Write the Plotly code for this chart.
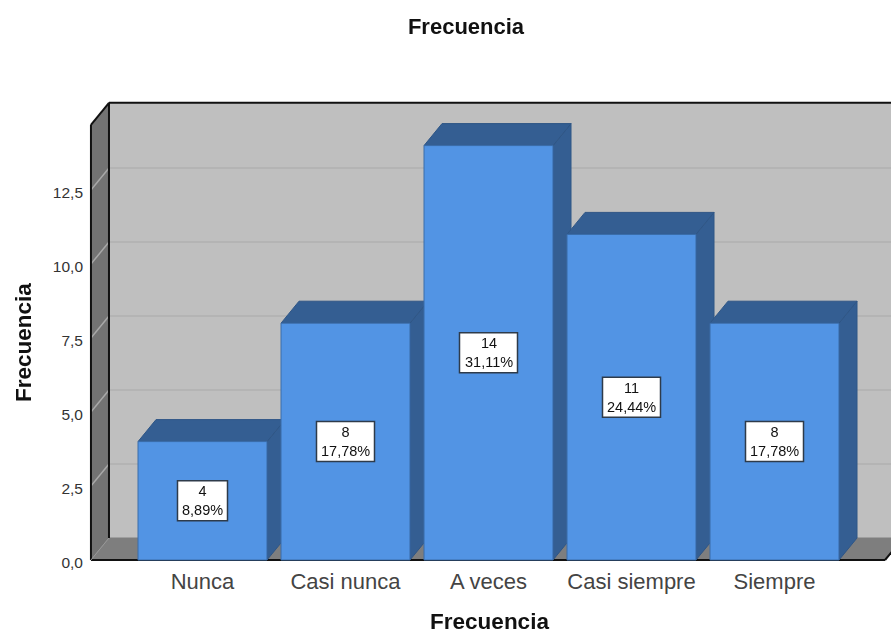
import plotly.graph_objects as go

categories = ["Nunca", "Casi nunca", "A veces", "Casi siempre", "Siempre"]
counts = [4, 8, 14, 11, 8]
percents = ["8,89%", "17,78%", "31,11%", "24,44%", "17,78%"]
y_ticks = [0, 2.5, 5, 7.5, 10, 12.5]
y_tick_labels = ["0,0", "2,5", "5,0", "7,5", "10,0", "12,5"]

# Pseudo-3D depth of the box, in axis units
DX, DY = 0.126, 0.743
BAR_W = 0.902
WALL_L, WALL_R, WALL_T = -0.78, 4.773, 14.7
X_RANGE = [-0.8007, 4.8147]
Y_RANGE = [-0.2027, 15.54]
LABEL_SHIFT = 0.10  # tick labels sit a little below their gridline ends

FRONT, DARK, EDGE = "#5294E4", "#345E92", "#3A6CA8"
BACK, SIDE, FLOOR = "#BFBFBF", "#737373", "#7E7E7E"
L, R, T, B = 88, 0, 100, 68


def poly(pts, fill, line=None, width=1):
    path = "M" + " L".join(f"{x},{y}" for x, y in pts) + " Z"
    return dict(type="path", path=path, xref="x", yref="y", layer="below",
                fillcolor=fill, line=dict(color=line or fill, width=width))


def seg(x0, y0, x1, y1, color, width=1):
    return dict(type="line", x0=x0, y0=y0, x1=x1, y1=y1, xref="x", yref="y",
                layer="below", line=dict(color=color, width=width))


shapes = [
    poly([(WALL_L + DX, DY), (WALL_R + DX, DY), (WALL_R + DX, WALL_T + DY), (WALL_L + DX, WALL_T + DY)], BACK),
    poly([(WALL_L, 0), (WALL_L + DX, DY), (WALL_L + DX, WALL_T + DY), (WALL_L, WALL_T)], SIDE),
    poly([(WALL_L, 0), (WALL_R, 0), (WALL_R + DX, DY), (WALL_L + DX, DY)], FLOOR),
]
for v in y_ticks[1:]:
    shapes.append(seg(WALL_L + DX, v + DY, WALL_R + DX, v + DY, "#B1B1B1", 1.5))
    shapes.append(seg(WALL_L, v, WALL_L + DX, v + DY, "#A8A8A8", 1.5))
shapes += [
    seg(WALL_L + DX, DY, WALL_L + DX, WALL_T + DY, "#111111", 2),
    seg(WALL_L, 0, WALL_L, WALL_T, "#111111", 2),
    seg(WALL_L, WALL_T, WALL_L + DX, WALL_T + DY, "#111111", 2),
    seg(WALL_L + DX, WALL_T + DY, WALL_R + DX, WALL_T + DY, "#111111", 2),
    seg(WALL_L, 0, WALL_R, 0, "#111111", 2),
    seg(WALL_R, 0, WALL_R + DX, DY, "#111111", 2),
    seg(WALL_L, 0, WALL_L + DX, DY, "#999999", 1),
]

xs = list(range(len(categories)))
for i, v in zip(xs, counts):
    l, r = i - BAR_W / 2, i + BAR_W / 2
    shapes.append(poly([(r, 0), (r + DX, DY), (r + DX, v + DY), (r, v)], DARK, "#2F5686"))
    shapes.append(poly([(l, v), (r, v), (r + DX, v + DY), (l + DX, v + DY)], DARK, "#2F5686"))

annotations = []
for i, v, pct in zip(xs, counts, percents):
    half_w = 29 if len(pct) > 5 else 25
    shapes.append(dict(type="rect", xref="x", yref="y", xsizemode="pixel", ysizemode="pixel",
                       xanchor=i, yanchor=v / 2, x0=-half_w, x1=half_w, y0=-20, y1=20,
                       layer="above", fillcolor="white", line=dict(color="#2E3B4A", width=1.5)))
    annotations.append(dict(x=i, y=v / 2, xref="x", yref="y", text=f"{v}<br>{pct}", showarrow=False,
                            font=dict(family="Liberation Sans", size=14.5, color="#111111")))

# Y axis title: paper coordinates are relative to the plot area, so convert from pixels
annotations.append(dict(x=(23 - L) / (891 - L - R), y=(634 - B - 343) / (634 - T - B),
                        xref="paper", yref="paper", yanchor="middle", xanchor="center",
                        text="<b>Frecuencia</b>", textangle=-90, showarrow=False,
                        font=dict(family="Liberation Sans", size=22.5, color="#111111")))

fig = go.Figure()
fig.add_trace(go.Bar(
    x=xs, y=counts, width=BAR_W, marker=dict(color=FRONT, line=dict(color=EDGE, width=1)),
    hoverinfo="skip", showlegend=False))
# Invisible companion trace that keeps the label axis alive
fig.add_trace(go.Scatter(x=xs, y=counts, yaxis="y2", mode="markers", opacity=0,
                         hoverinfo="skip", showlegend=False))

fig.update_layout(
    width=891, height=634, autosize=False,
    margin=dict(l=L, r=R, t=T, b=B, pad=0),
    paper_bgcolor="white", plot_bgcolor="white",
    font=dict(family="Liberation Sans"),
    title=dict(text="<b>Frecuencia</b>", x=466 / 891, xanchor="center", xref="container",
               y=1 - 26 / 634, yanchor="middle", yref="container",
               font=dict(family="Liberation Sans", size=22, color="#111111")),
    shapes=shapes, annotations=annotations, showlegend=False,
    xaxis=dict(range=X_RANGE, tickmode="array", tickvals=xs, ticktext=categories,
               automargin=False, showgrid=False, zeroline=False, showline=False, ticks="",
               ticklabelstandoff=0, tickfont=dict(size=22, color="#444444"),
               title=dict(text="<b>Frecuencia</b>", standoff=27,
                          font=dict(size=22.5, color="#111111"))),
    yaxis=dict(range=Y_RANGE, automargin=False, showticklabels=False, showgrid=False,
               zeroline=False, showline=False, ticks=""),
    yaxis2=dict(overlaying="y", side="left", anchor="x", automargin=False,
                range=[Y_RANGE[0] + LABEL_SHIFT, Y_RANGE[1] + LABEL_SHIFT],
                tickmode="array", tickvals=y_ticks, ticktext=y_tick_labels,
                showgrid=False, zeroline=False, showline=False, ticks="",
                ticklabelstandoff=4, tickfont=dict(size=15.5, color="#333333")),
)
fig.write_html("out.html", config={"displayModeBar": False},
               post_script="document.body.style.margin='0';")
